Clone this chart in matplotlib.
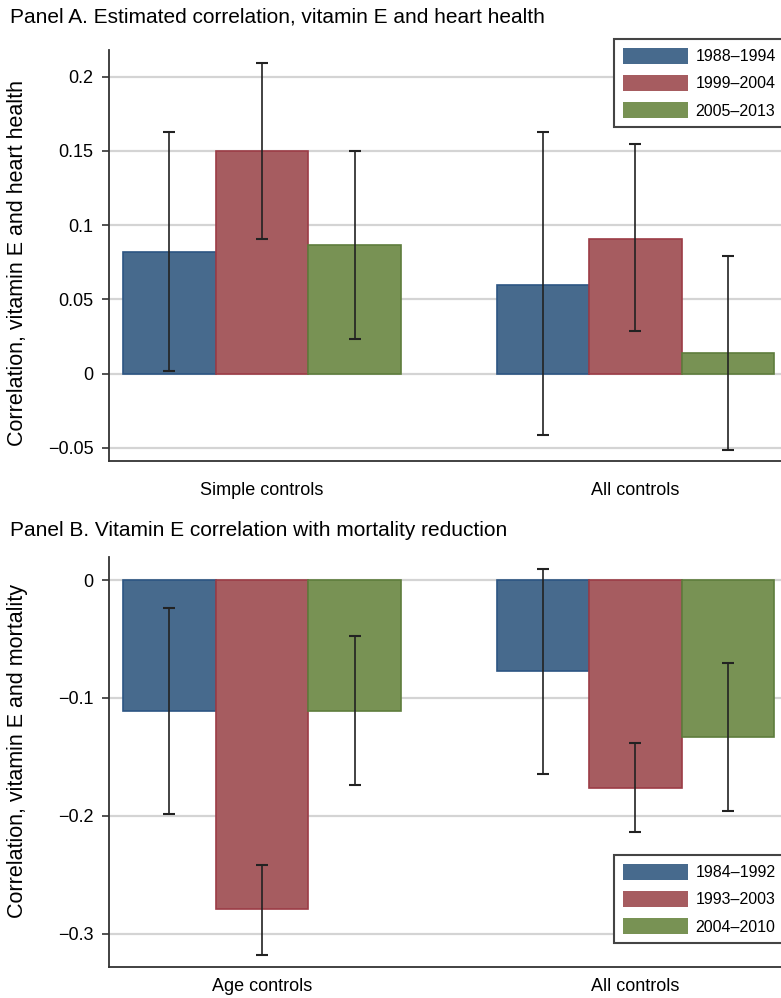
import numpy as np
import matplotlib
matplotlib.use("Agg")
import matplotlib.pyplot as plt

# ---- data --------------------------------------------------------------
groups_a = ["Simple controls", "All controls"]
periods_a = ["1988\u20131994", "1999\u20132004", "2005\u20132013"]
est_a = [[0.082, 0.060], [0.150, 0.091], [0.0865, 0.014]]
lo_a = [[0.002, -0.041], [0.091, 0.029], [0.0236, -0.0514]]
hi_a = [[0.163, 0.163], [0.2095, 0.155], [0.150, 0.079]]

groups_b = ["Age controls", "All controls"]
periods_b = ["1984\u20131992", "1993\u20132003", "2004\u20132010"]
est_b = [[-0.111, -0.077], [-0.279, -0.176], [-0.111, -0.133]]
lo_b = [[-0.198, -0.164], [-0.318, -0.214], [-0.174, -0.196]]
hi_b = [[-0.0237, 0.0093], [-0.2415, -0.138], [-0.0475, -0.070]]

colors = ['#476a8d', '#a65c60', '#789254']
edges = ['#2c5583', '#9c3c46', '#5e7d3c']

plt.rcParams['font.family'] = ['Liberation Sans', 'DejaVu Sans']

W, H = 781, 998
fig = plt.figure(figsize=(W / 100, H / 100), dpi=100)


def panel(rect, est, lo, hi, groups, periods, ylim, yticks, yticklabels,
          ylabel, title, title_y, leg_top, ylabel_y, xpad):
    ax = fig.add_axes(rect)
    x = np.arange(len(groups))
    w = 0.248
    for i in range(3):
        pos = x + (i - 1) * w
        e = np.array(est[i])
        yerr = [e - np.array(lo[i]), np.array(hi[i]) - e]
        ax.bar(pos, e, width=w, color=colors[i], edgecolor=edges[i],
               linewidth=1.2, label=periods[i], zorder=2)
        ax.errorbar(pos, e, yerr=yerr, fmt='none', ecolor='#222222',
                    elinewidth=1.2, capsize=4, capthick=1.5, zorder=3)
    ax.set_xlim(-0.41, 1.39)
    ax.set_ylim(*ylim)
    ax.set_yticks(yticks)
    ax.set_yticklabels(yticklabels, fontsize=13)
    ax.yaxis.grid(True, color='#d4d4d4', linewidth=1.6, zorder=0)
    ax.set_axisbelow(True)
    ax.tick_params(axis='y', length=5, width=1.2, color='#333333', pad=6)
    ax.tick_params(axis='x', length=0, pad=xpad)
    ax.set_xticks(x)
    ax.set_xticklabels(groups, fontsize=13)
    for s in ['top', 'right']:
        ax.spines[s].set_visible(False)
    for s in ['left', 'bottom']:
        ax.spines[s].set_color('#333333')
        ax.spines[s].set_linewidth(1.3)
    fig.text(18 / W, 1 - ylabel_y / H, ylabel, rotation=90, ha='center',
             va='center', fontsize=15.5)
    fig.text(10 / W, 1 - title_y / H, title, ha='left', va='center', fontsize=15)
    leg = ax.legend(loc='upper left', bbox_to_anchor=(614 / W, 1 - leg_top / H),
                    bbox_transform=fig.transFigure, borderaxespad=0,
                    fontsize=11.5, handlelength=4.1, handleheight=1.15,
                    labelspacing=0.68, handletextpad=0.45, borderpad=0.55,
                    fancybox=False, framealpha=1, edgecolor='#444444')
    leg.get_frame().set_linewidth(1.5)
    for h in leg.legend_handles:
        h.set_linewidth(0)
    return ax


panel([109 / W, 1 - 461 / H, 1 - 109 / W, 411 / H], est_a, lo_a, hi_a,
      groups_a, periods_a, (-0.0588, 0.218),
      [-0.05, 0, 0.05, 0.1, 0.15, 0.2],
      ['\u22120.05', '0', '0.05', '0.1', '0.15', '0.2'],
      'Correlation, vitamin E and heart health',
      'Panel A. Estimated correlation, vitamin E and heart health', 17, 39, 263, 15)

panel([109 / W, 1 - 967 / H, 1 - 109 / W, 410 / H], est_b, lo_b, hi_b,
      groups_b, periods_b, (-0.328, 0.0195),
      [-0.3, -0.2, -0.1, 0],
      ['\u22120.3', '\u22120.2', '\u22120.1', '0'],
      'Correlation, vitamin E and mortality',
      'Panel B. Vitamin E correlation with mortality reduction', 530, 855, 751, 8)

fig.savefig('out.png', dpi=100)
